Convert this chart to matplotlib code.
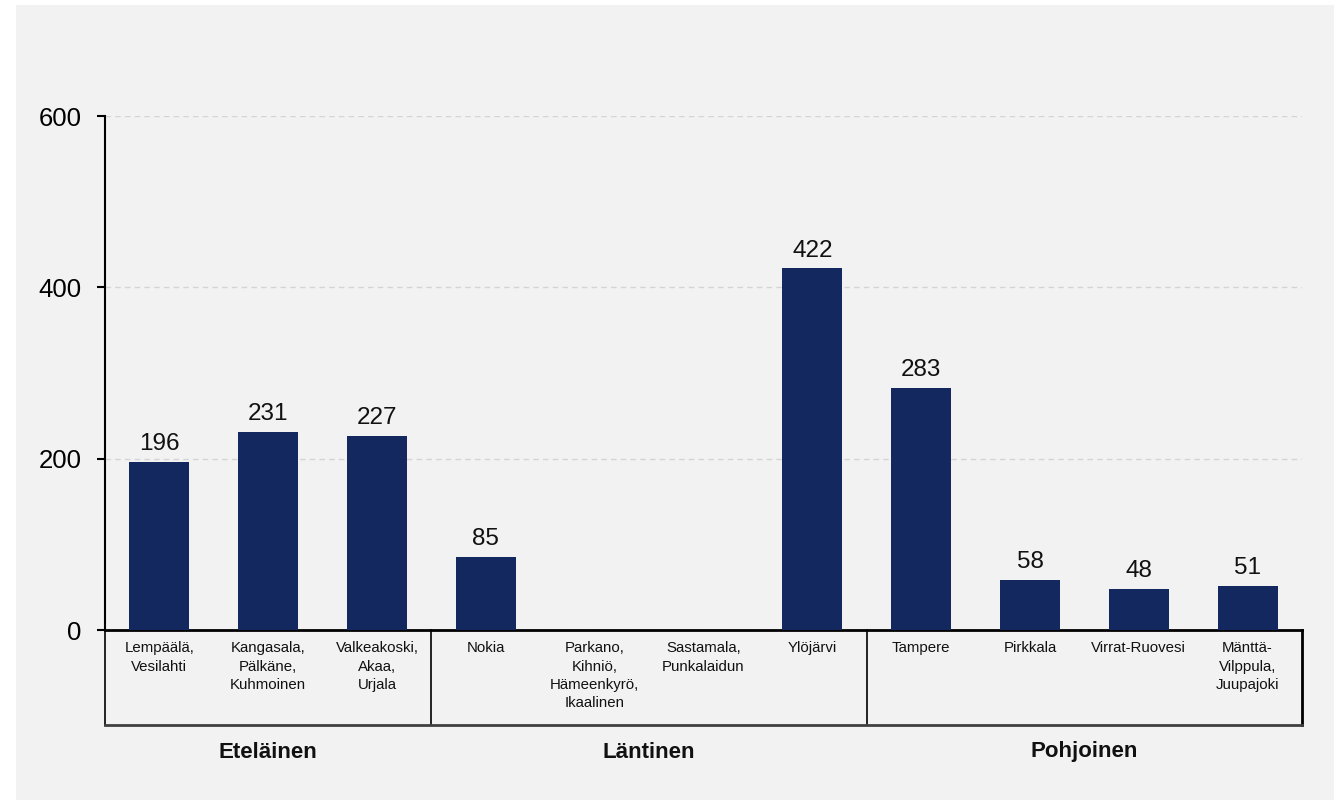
import numpy as np
import matplotlib
matplotlib.use("Agg")
import matplotlib.pyplot as plt
from matplotlib.patches import Rectangle

# --- data ---
categories = [
    "Lempäälä,\nVesilahti",
    "Kangasala,\nPälkäne,\nKuhmoinen",
    "Valkeakoski,\nAkaa,\nUrjala",
    "Nokia",
    "Parkano,\nKihniö,\nHämeenkyrö,\nIkaalinen",
    "Sastamala,\nPunkalaidun",
    "Ylöjärvi",
    "Tampere",
    "Pirkkala",
    "Virrat-Ruovesi",
    "Mänttä-\nVilppula,\nJuupajoki",
]
values = [196, 231, 227, 85, np.nan, np.nan, 422, 283, 58, 48, 51]
groups = ["Eteläinen", "Läntinen", "Pohjoinen"]
group_sizes = [3, 4, 4]
yticks = [0, 200, 400, 600]

plt.rcParams["font.family"] = ["Liberation Sans", "DejaVu Sans"]

bar_color = "#13285F"

fig = plt.figure(figsize=(13.42, 8.0), dpi=100)
fig.patch.set_facecolor("white")
fig.patches.append(Rectangle((16 / 1342, 0), 1318 / 1342, 795 / 800,
                             transform=fig.transFigure, facecolor="#f2f2f2",
                             edgecolor="none", zorder=-10))

ax = fig.add_axes([105 / 1342, 1 - 630 / 800, 1197 / 1342, 514 / 800])
ax.set_facecolor("none")

x = np.arange(len(categories))
ax.bar(x, values, width=0.55, color=bar_color, zorder=3)

for xi, v in zip(x, values):
    if np.isnan(v):
        continue
    ax.annotate(f"{v:.0f}", (xi, v), xytext=(0, 5), textcoords="offset points",
                ha="center", va="bottom", fontsize=17.5, color="#111111")

ax.set_xlim(-0.5, len(categories) - 0.5)
ax.set_ylim(0, 600)
ax.set_yticks(yticks)
ax.set_yticklabels([str(t) for t in yticks], fontsize=18.5)
ax.tick_params(axis="y", length=6, width=1.5, pad=11)

ax.set_xticks(x)
ax.set_xticklabels(categories, fontsize=10.8, linespacing=1.4, color="#111111")
ax.tick_params(axis="x", length=0, pad=8)

ax.yaxis.grid(True, linestyle=(0, (4, 3)), color="#d4d4d4", linewidth=1, zorder=0)
ax.set_axisbelow(True)

for s in ["top", "right"]:
    ax.spines[s].set_visible(False)
ax.spines["left"].set_linewidth(1.5)
ax.spines["bottom"].set_linewidth(2)

# --- category group box below the axis ---
trans = ax.get_xaxis_transform()
box_bottom = -95 / 514
bounds = [-0.5]
for n in group_sizes:
    bounds.append(bounds[-1] + n)
for b in bounds:
    lw = 2 if b == bounds[-1] else 1.2
    ax.plot([b, b], [0, box_bottom], transform=trans, color="black",
            linewidth=lw, clip_on=False)
ax.plot([bounds[0], bounds[-1]], [box_bottom, box_bottom], transform=trans,
        color="#404040", linewidth=2, clip_on=False)

for g, lo, hi in zip(groups, bounds[:-1], bounds[1:]):
    ax.text((lo + hi) / 2, -122 / 514, g, transform=trans, ha="center",
            va="center", fontsize=16, fontweight="bold", color="#111111")

fig.savefig("out.png", dpi=100, facecolor=fig.get_facecolor())
